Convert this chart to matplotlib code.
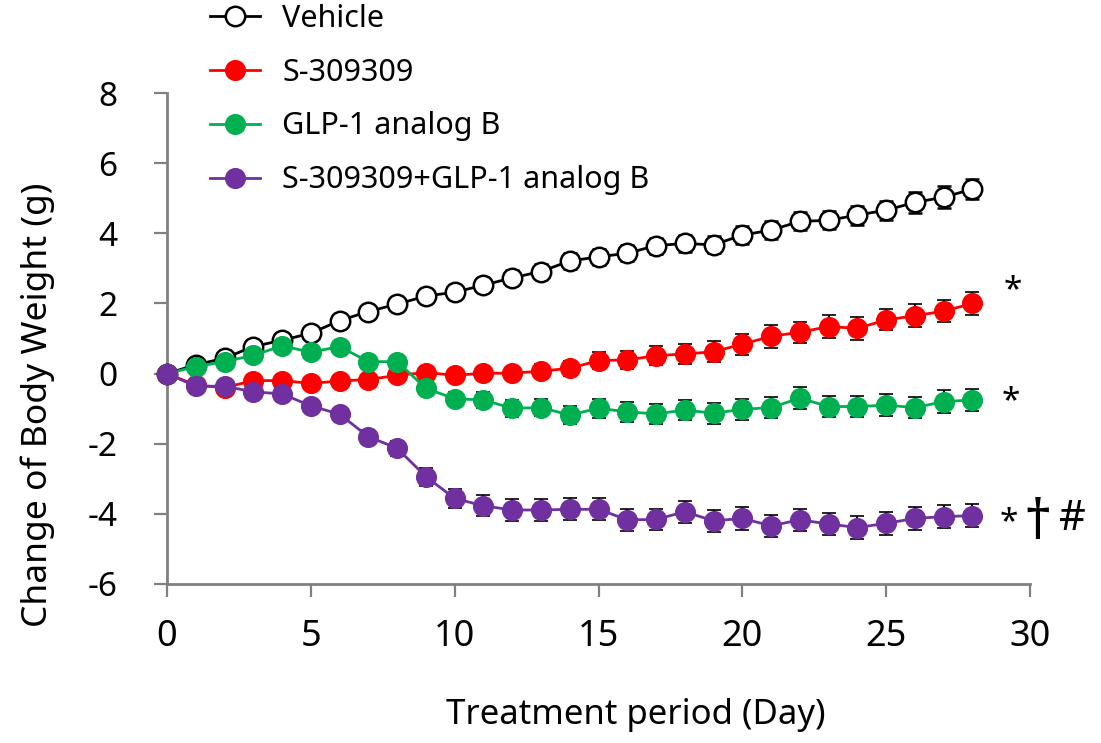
import matplotlib
matplotlib.use("Agg")
import matplotlib.pyplot as plt
import numpy as np

days = list(range(29))

vehicle = [0.00, 0.25, 0.44, 0.77, 0.95, 1.15, 1.51, 1.77, 1.98, 2.21, 2.32, 2.52, 2.73, 2.91, 3.21,
           3.33, 3.43, 3.65, 3.71, 3.67, 3.95, 4.09, 4.34, 4.37, 4.52, 4.66, 4.88, 5.03, 5.26]
vehicle_err = [0.00, 0.08, 0.10, 0.12, 0.14, 0.15, 0.16, 0.17, 0.18, 0.19, 0.20, 0.20, 0.21, 0.21, 0.22,
               0.22, 0.23, 0.23, 0.24, 0.24, 0.25, 0.25, 0.26, 0.26, 0.27, 0.27, 0.30, 0.32, 0.28]

s309309 = [0.00, -0.33, -0.40, -0.20, -0.20, -0.28, -0.21, -0.17, -0.05, 0.03, -0.05, 0.01, 0.01, 0.07, 0.15,
           0.37, 0.39, 0.51, 0.56, 0.62, 0.84, 1.06, 1.18, 1.34, 1.29, 1.53, 1.65, 1.78, 2.00]
s309309_err = [0.00, 0.08, 0.10, 0.10, 0.12, 0.12, 0.13, 0.14, 0.15, 0.16, 0.17, 0.18, 0.19, 0.20, 0.22,
               0.24, 0.25, 0.27, 0.28, 0.30, 0.30, 0.32, 0.30, 0.32, 0.32, 0.30, 0.32, 0.31, 0.33]

glp1 = [0.00, 0.20, 0.34, 0.52, 0.79, 0.61, 0.77, 0.34, 0.34, -0.42, -0.72, -0.75, -0.99, -0.97, -1.18,
        -0.99, -1.09, -1.15, -1.04, -1.13, -1.02, -0.97, -0.70, -0.94, -0.94, -0.90, -0.97, -0.80, -0.75]
glp1_err = [0.00, 0.08, 0.10, 0.12, 0.12, 0.14, 0.15, 0.15, 0.16, 0.18, 0.20, 0.22, 0.24, 0.25, 0.26,
            0.27, 0.28, 0.29, 0.29, 0.30, 0.30, 0.31, 0.32, 0.31, 0.31, 0.31, 0.31, 0.32, 0.32]

combo = [0.00, -0.36, -0.36, -0.52, -0.58, -0.92, -1.16, -1.80, -2.13, -2.94, -3.56, -3.77, -3.89, -3.89, -3.87,
         -3.87, -4.17, -4.16, -3.94, -4.20, -4.13, -4.34, -4.17, -4.29, -4.39, -4.27, -4.13, -4.08, -4.05]
combo_err = [0.00, 0.08, 0.10, 0.12, 0.13, 0.15, 0.17, 0.20, 0.22, 0.26, 0.28, 0.30, 0.30, 0.30, 0.31,
             0.31, 0.31, 0.31, 0.31, 0.32, 0.32, 0.32, 0.32, 0.32, 0.32, 0.32, 0.32, 0.32, 0.32]

labels = ["Vehicle", "S-309309", "GLP-1 analog B", "S-309309+GLP-1 analog B"]
x_ticks = [0, 5, 10, 15, 20, 25, 30]
y_ticks = [-6, -4, -2, 0, 2, 4, 6, 8]

plt.rcParams['font.family'] = ['Noto Sans', 'DejaVu Sans']

fig = plt.figure(figsize=(11.01, 7.43), dpi=100)
ax = fig.add_axes([0.1517, 0.2140, 0.9355 - 0.1517, 0.8748 - 0.2140])

axis_gray = '#808080'
series = [
    (vehicle, vehicle_err, 'black', 'white'),
    (s309309, s309309_err, '#ff0000', '#ff0000'),
    (glp1, glp1_err, '#00b050', '#00b050'),
    (combo, combo_err, '#7030a0', '#7030a0'),
]
handles = []
for i, ((vals, errs, lc, fc), lab) in enumerate(zip(series, labels)):
    eb = ax.errorbar(days, vals, yerr=errs, color=lc, ecolor='black', elinewidth=1.5,
                     capsize=5, capthick=2.2, lw=2, marker='o', ms=14, mfc=fc,
                     mec=lc, mew=1.8 if i == 0 else 1.2, zorder=3 + i, clip_on=False, label=lab)
    for art in eb.lines[1] + eb.lines[2]:
        art.set_clip_on(False)
    handles.append(eb[0])

ax.set_xlim(0, 30)
ax.set_ylim(-6, 8)
ax.set_xticks(x_ticks)
ax.set_yticks(y_ticks)
ax.set_yticklabels([str(v) for v in y_ticks])

for s in ['top', 'right']:
    ax.spines[s].set_visible(False)
for s in ['left', 'bottom']:
    ax.spines[s].set_color(axis_gray)
    ax.spines[s].set_linewidth(2)
ax.tick_params(axis='both', direction='out', length=9.5, width=1.6, color=axis_gray)
ax.tick_params(axis='x', pad=16, labelsize=26)
ax.tick_params(axis='y', pad=26, labelsize=24)

ax.set_xlabel("Treatment period (Day)", fontsize=25)
ax.xaxis.set_label_coords(0.5435, -0.232)
ax.set_ylabel("Change of Body Weight (g)", fontsize=25.5)
ax.yaxis.set_label_coords(-0.130, 0.365)

leg = ax.legend(handles=handles, labels=labels, loc='upper left', bbox_to_anchor=(0.1907, 0.995),
                bbox_transform=fig.transFigure, frameon=False, fontsize=22,
                handlelength=1.64, handletextpad=0.72, labelspacing=0.78, borderaxespad=0, borderpad=0)

# significance marks
ax.text(days[-1] + 1.4, s309309[-1] + 0.35, "*", fontsize=24, ha='center', va='center')
ax.text(days[-1] + 1.34, glp1[-1] - 0.04, "*", fontsize=24, ha='center', va='center')
ax.text(days[-1] + 1.25, combo[-1] - 0.21, "*", fontsize=24, ha='center', va='center')
ax.text(days[-1] + 2.27, combo[-1] - 0.25, "\u2020", fontsize=40, ha='center', va='center')
ax.text(days[-1] + 3.46, combo[-1] - 0.1, "#", fontsize=30, ha='center', va='center')

fig.savefig("out.png", dpi=100)
